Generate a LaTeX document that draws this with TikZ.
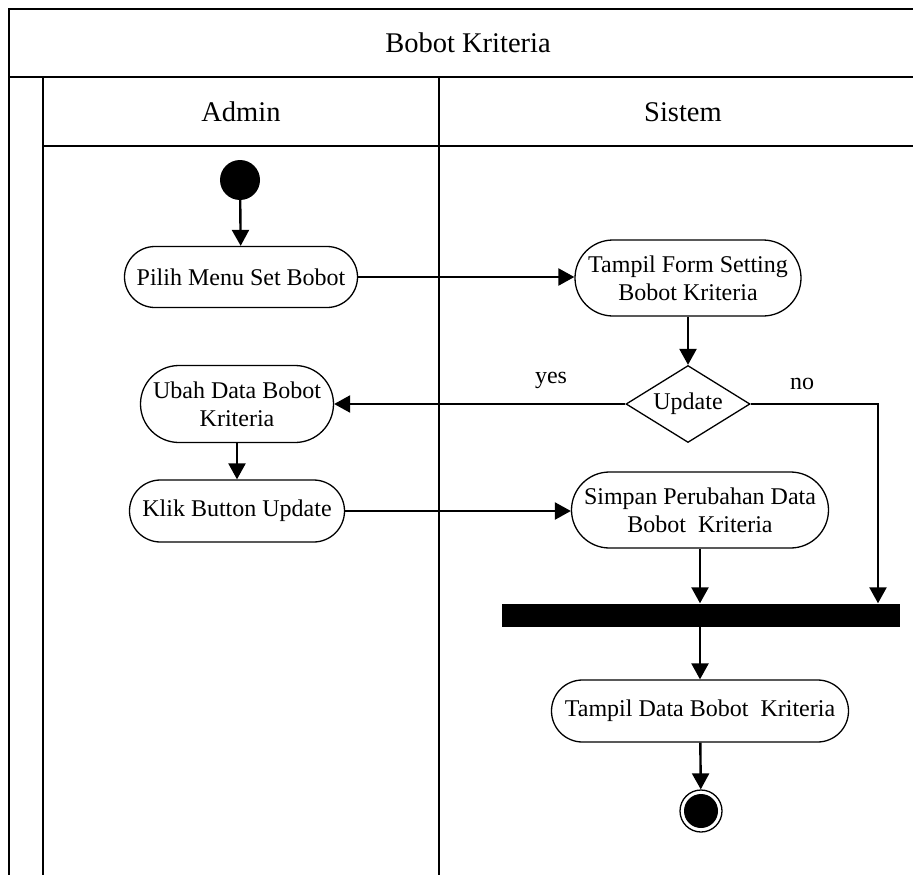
\documentclass[tikz,border=0pt]{standalone}
\usepackage{fontspec}
\setmainfont{Liberation Serif}
\usetikzlibrary{arrows.meta,shapes.geometric}

\begin{document}
\begin{tikzpicture}[x=1pt,y=-1pt,
  lane/.style={line width=2.4pt},
  head/.style={font=\fontsize{28.5}{32}\selectfont},
  act/.style 2 args={draw,line width=1.3pt,rectangle,minimum width=#1pt,
    minimum height=#2pt,rounded corners=0.5*#2pt,inner sep=0pt,align=center,
    font=\fontsize{24}{28}\selectfont},
  flow/.style={line width=2.4pt,-{Triangle[length=16pt,width=17pt]}},
  lbl/.style={font=\fontsize{24}{28}\selectfont}]

\useasboundingbox (0,0) rectangle (913,875);
\clip (0,0) rectangle (913,875);

% swimlane frame
\draw[lane] (9,875) -- (9,9) -- (940,9);
\draw[lane] (9,77) -- (940,77);
\draw[lane] (43,77) -- (43,875);
\draw[lane] (43,146) -- (940,146);
\draw[lane] (439,77) -- (439,875);

\node[head] (title) at (468,43) {Bobot Kriteria};
\node[head] (admin) at (241,112) {Admin};
\node[head] (sistem) at (683,112) {Sistem};

% activities
\node[circle,fill=black,minimum size=40pt,inner sep=0pt] (start) at (240,180) {};
\node[act={233}{61}] (pilih) at (241,277) {Pilih Menu Set Bobot};
\node[act={226}{76}] (form) at (688,278) {Tampil Form Setting\\Bobot Kriteria};
\node[draw,line width=1.3pt,diamond,aspect=1.6,minimum width=124pt,
  minimum height=77pt,inner sep=0pt,font=\fontsize{24}{28}\selectfont] (upd) at (688,404) {Update};
\node[act={193}{77}] (ubah) at (237,404) {Ubah Data Bobot\\Kriteria};
\node[act={215}{62}] (klik) at (237,511) {Klik Button Update};
\node[act={257}{76}] (simpan) at (700,510) {Simpan Perubahan Data\\Bobot~ Kriteria};
\node[rectangle,fill=black,minimum width=398pt,minimum height=23pt,inner sep=0pt] (bar) at (701,615) {};
\node[act={297}{62}] (tampil) at (700,711) {Tampil Data Bobot~ Kriteria};
\node[circle,draw,line width=1.3pt,minimum size=42pt,inner sep=0pt] (end) at (701,811) {};
\node[circle,fill=black,minimum size=34pt,inner sep=0pt] (endin) at (end.center) {};

\node[lbl] (yes) at (551,380) {yes};
\node[lbl] (no) at (802,384) {no};

% connectors
\draw[flow] (start) -- (pilih);
\draw[flow] (pilih.east) -- (pilih.east -| form.west);
\draw[flow] (form) -- (upd);
\draw[flow] (upd.west) -- (ubah.east);
\draw[flow] (upd.east) -| ([xshift=177pt]bar.north);
\draw[flow] (ubah) -- (klik);
\draw[flow] (klik.east) -- (klik.east -| simpan.west);
\draw[flow] (simpan.south) -- (simpan.south |- bar.north);
\draw[flow] (bar.south -| tampil.north) -- (tampil.north);
\draw[flow] (tampil) -- (end);
\end{tikzpicture}
\end{document}
